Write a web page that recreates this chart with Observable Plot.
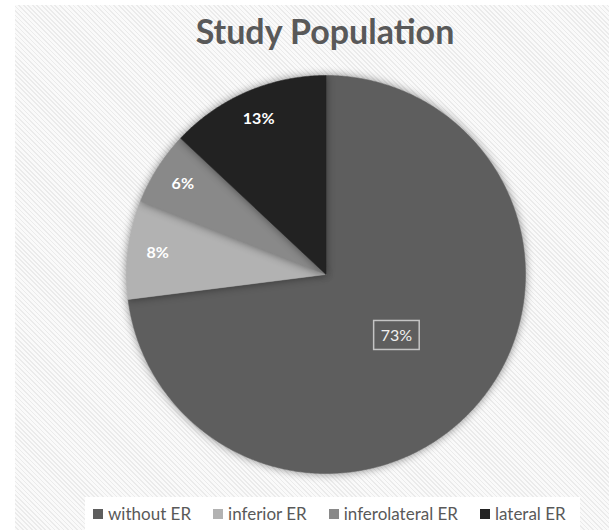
<!DOCTYPE html>
<html><head><meta charset="utf-8">
<script src="https://cdn.jsdelivr.net/npm/d3@7"></script>
<script src="https://cdn.jsdelivr.net/npm/@observablehq/plot@0.6"></script>
<style>
html,body{margin:0;padding:0;background:#fff;width:609px;height:530px;overflow:hidden;font-family:Lato,"Open Sans",sans-serif;}
#panel{position:absolute;left:15px;top:5px;width:594px;height:525px;
 background:repeating-linear-gradient(45deg,#fafafa 0px,#fafafa 2px,#ebebeb 2px,#ebebeb 3.2px);}
#title{position:absolute;left:0;top:14px;width:650px;text-align:center;font:bold 34px/34px Lato,sans-serif;color:#595959;}
#chart{position:absolute;left:0;top:55px;}
#chart svg path{filter:drop-shadow(0 0 4px rgba(0,0,0,0.45));}
#legend{position:absolute;left:70px;top:492px;width:495px;height:33px;background:#fff;display:flex;align-items:center;padding-left:8px;box-sizing:border-box;}
.item{display:flex;align-items:center;margin-right:22px;font:17px Lato,sans-serif;color:#595959;white-space:nowrap;}
.sw{width:10px;height:10px;margin-right:5px;display:inline-block;}
</style></head>
<body>
<div id="panel"><div id="chart"></div><div id="legend"></div></div>
<div id="title">Study Population</div>
<script>
const categories = ["without ER", "inferior ER", "inferolateral ER", "lateral ER"];
const percents = [73, 8, 6, 13];
const palette = ["#5e5e5e", "#b2b2b2", "#898989", "#222222"];

const arcs = d3.pie().sort(null).value((d, i) => percents[i])(categories);

// slice outlines (pie geometry from the data angles)
const slicePts = [];
arcs.forEach((a, i) => {
  const cat = categories[i];
  slicePts.push({cat, x: 0, y: 0});
  const n = Math.max(2, Math.ceil((a.endAngle - a.startAngle) / (Math.PI / 360)));
  for (let k = 0; k <= n; k++) {
    const t = a.startAngle + (a.endAngle - a.startAngle) * k / n;
    slicePts.push({cat, x: Math.sin(t), y: Math.cos(t)});
  }
  slicePts.push({cat, x: 0, y: 0});
});

const labels = arcs.map((a, i) => {
  const m = (a.startAngle + a.endAngle) / 2;
  const big = percents[i] > 50;
  const rr = big ? 0.47 : 0.85;
  return {cat: categories[i], text: percents[i] + "%", x: rr * Math.sin(m), y: rr * Math.cos(m), boxed: big};
});

const chart = Plot.plot({
  width: 594, height: 430,
  marginLeft: 111, marginRight: 84, marginTop: 15, marginBottom: 17,
  x: {domain: [-1, 1], axis: null},
  y: {domain: [-1, 1], axis: null},
  color: {domain: categories, range: palette},
  style: {background: "transparent", overflow: "visible"},
  marks: [
    Plot.line(slicePts, {x: "x", y: "y", z: "cat", fill: "cat", stroke: "cat", strokeWidth: 0.5}),
    Plot.text(labels.filter(d => !d.boxed), {x: "x", y: "y", text: "text", fill: "white", fontWeight: "bold", fontSize: 16, fontFamily: "Lato"}),
    Plot.text(labels.filter(d => d.boxed), {x: "x", y: "y", text: "text", fill: "#f0f0f0", fontSize: 16, fontFamily: "Lato"})
  ]
});
document.getElementById("chart").appendChild(chart);

// frame around the boxed label
const boxedTexts = labels.filter(d => d.boxed).map(d => d.text);
chart.querySelectorAll("text").forEach(el => {
  if (boxedTexts.includes(el.textContent)) {
    const b = el.getBBox();
    const r = document.createElementNS("http://www.w3.org/2000/svg", "rect");
    r.setAttribute("x", b.x - 7); r.setAttribute("y", b.y - 5);
    r.setAttribute("width", b.width + 14); r.setAttribute("height", b.height + 10);
    const tr = el.getAttribute("transform");
    if (tr) r.setAttribute("transform", tr);
    r.setAttribute("fill", "none"); r.setAttribute("stroke", "#c4c4c4"); r.setAttribute("stroke-width", 1.5);
    el.parentNode.insertBefore(r, el);
  }
});

// legend
const legend = document.getElementById("legend");
categories.forEach((c, i) => {
  const it = document.createElement("div"); it.className = "item";
  const sw = document.createElement("span"); sw.className = "sw"; sw.style.background = palette[i];
  it.appendChild(sw); it.appendChild(document.createTextNode(c));
  legend.appendChild(it);
});
</script>
</body></html>
